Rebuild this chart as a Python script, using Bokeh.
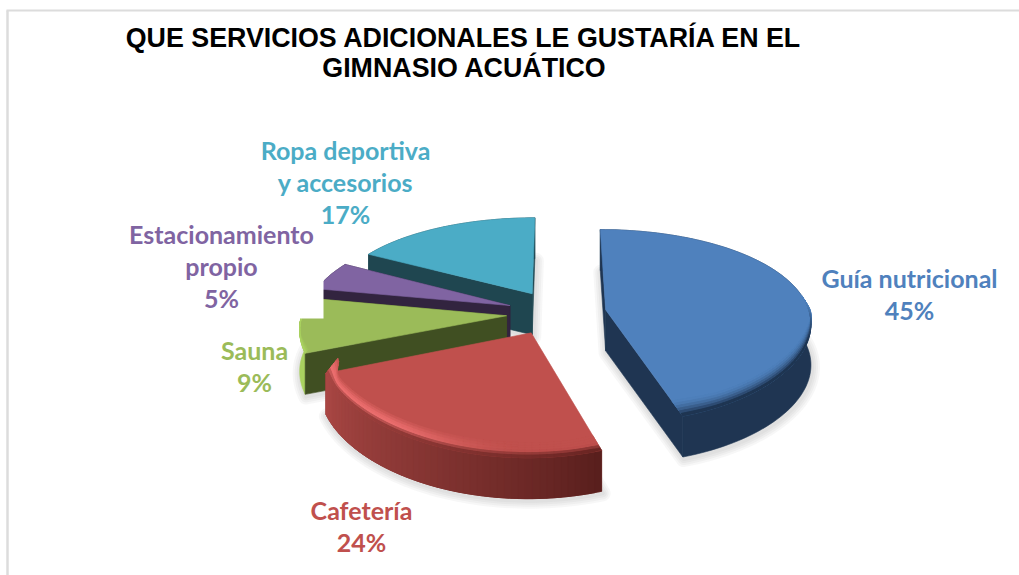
import numpy as np
from bokeh.plotting import figure
from bokeh.embed import file_html
from bokeh.resources import INLINE
from bokeh.core.properties import value

# ---- data
categories = ["Guía nutricional", "Cafetería", "Sauna", "Estacionamiento propio", "Ropa deportiva y accesorios"]
shares = [45, 24, 9, 5, 17]
label_lines = [["Guía nutricional"], ["Cafetería"], ["Sauna"], ["Estacionamiento", "propio"], ["Ropa deportiva", "y accesorios"]]
title_lines = ["QUE SERVICIOS ADICIONALES LE GUSTARÍA EN EL", "GIMNASIO ACUÁTICO"]

# ---- styles
top_col = ["#4F81BD", "#C0504D", "#9BBB59", "#8064A2", "#4BACC6"]
wall_col = ["#1F3552", "#7F3331", "#404F22", "#32243F", "#1F4650"]
arc_col = ["#1F3552", "#7F3331", "#A9D160", "#32243F", "#1F4650"]

# ---- layout (screen pixels)
W, H = 1019, 575
CX, CY, RX, RY = 557.0, 313.0, 204.0, 95.0
AX, AY, EXPLODE, DEPTH = 0.12, 0.17, 0.25, 41.0
nudge_x = [-2, -4, 0, 0, 0]
nudge_y = [0, -3, 0, 0, 0]
rim_h = [15.0, 15.0, 4.0, 15.0, 15.0]
label_x = [909, 361, 254, 221, 345]
label_y0 = [277, 509, 349, 233, 149]
LINE = 32

p = figure(width=W, height=H, x_range=(0, W), y_range=(H, 0), output_backend="svg",
           toolbar_location=None, min_border=0, outline_line_color=None, background_fill_color="white")
p.axis.visible = False
p.grid.visible = False


def hex2(c):
    return np.array([int(c[i:i + 2], 16) for i in (1, 3, 5)], float)


def mix(a, b, t):
    t = float(np.clip(t, 0, 1))
    c = hex2(a) * (1 - t) + hex2(b) * t
    return "#%02x%02x%02x" % tuple(int(round(v)) for v in c)


def smooth(e0, e1, x):
    t = np.clip((x - e0) / (e1 - e0), 0, 1)
    return t * t * (3 - 2 * t)


def project(wx, wy):
    x = CX + RX * wx / (1 + AX * wy)
    y = CY - RY * wy / (1 + AY * wy)
    return x, y


sh = np.array(shares, float)
edges = np.concatenate([[0], np.cumsum(sh)]) / sh.sum() * 2 * np.pi
order = [4, 3, 2, 0, 1]  # painter's order, back to front

halo_x, halo_y = [], []
polys = {k: [] for k in ("xs", "ys", "c")}


def add(xs, ys, c):
    polys["xs"].append(list(xs))
    polys["ys"].append(list(ys))
    polys["c"].append(c)


for i in order:
    t0, t1 = edges[i], edges[i + 1]
    mid = (t0 + t1) / 2
    ox, oy = EXPLODE * np.sin(mid), EXPLODE * np.cos(mid)
    th = np.linspace(t0, t1, max(8, int((t1 - t0) / (2 * np.pi) * 220)))
    n = len(th)
    ax_, ay_ = project(ox, oy)
    px, py = project(ox + np.sin(th), oy + np.cos(th))
    ax_, px = ax_ + nudge_x[i], px + nudge_x[i]
    ay_, py = ay_ + nudge_y[i], py + nudge_y[i]

    halo_x.append(np.r_[ax_, px] + 1)
    halo_y.append(np.r_[ay_, py] + DEPTH + 2)

    # outer wall: a base shape, then overlapping shaded pieces
    add(np.r_[px, px[::-1]], np.r_[py, py[::-1] + DEPTH], arc_col[i])
    if i == 1:
        for j in range(n - 1):
            f = (th[j] - t0) / (t1 - t0)
            c = mix("#591F1D", "#AB4845", f ** 0.9)
            k = min(j + 2, n - 1)
            add([px[j], px[k], px[k], px[j]], [py[j], py[k], py[k] + DEPTH, py[j] + DEPTH], c)
    # radial walls
    for (qx, qy) in ((px[-1], py[-1]), (px[0], py[0])):
        if i == 1:
            continue
        add([ax_, qx, qx, ax_], [ay_, qy, qy + DEPTH, ay_ + DEPTH], wall_col[i])
    # top face
    add(np.r_[ax_, px], np.r_[ay_, py], top_col[i])

    # bevelled rim, from the inner band outwards
    bands = 6
    h = rim_h[i]
    w = smooth(-0.15, 0.35, -np.cos(th))
    end = np.maximum(smooth(0.18, 0.0, th - t0), smooth(0.18, 0.0, t1 - th))
    slope = np.clip((ax_ - px) / np.maximum(py - ay_, 1.0), -0.8, 0.8)
    for b in range(bands):
        a0, a1 = b / bands, (b + 1) / bands
        for j in range(n - 1):
            if w[j] + w[j + 1] == 0:
                continue
            k = min(j + 2, n - 1)
            f = (th[j] - t0) / (t1 - t0)
            if i == 1:
                hl = float(smooth(0.2, 0.65, f))
                edge = mix("#6A2523", "#AB4845", f)
                c = mix(mix(top_col[i], "#EE7070", hl * min(a1 * 1.6, 1.0)), edge, smooth(0.62, 1.0, a1))
            elif i == 2:
                c = mix(top_col[i], arc_col[i], a1)
            else:
                c = mix(top_col[i], wall_col[i], a1 * a1 * w[j])
            d0, d1 = h * (1 - a0), h * (1 - a1)
            add([px[j] + end[j] * slope[j] * w[j] * d0, px[k] + end[k] * slope[k] * w[k] * d0,
                 px[k] + end[k] * slope[k] * w[k] * d1, px[j] + end[j] * slope[j] * w[j] * d1],
                [py[j] - w[j] * d0, py[k] - w[k] * d0, py[k] - w[k] * d1, py[j] - w[j] * d1], c)

# shadow layers
for lw in (16, 12, 8, 4):
    p.patches(halo_x, halo_y, fill_color=None, line_color="#6f6f6f", line_alpha=0.055, line_width=lw, line_join="round")

p.patches("xs", "ys", fill_color="c", line_color="c", line_width=0.6, source=polys)

# white patch pasted over the left of the pie in the original picture
p.quad(left=[285], right=[323], top=[270], bottom=[318], fill_color="white", line_color=None)

# frame fragments
p.segment(x0=[7], y0=[10], x1=[7], y1=[H], line_color="#DCDCDC", line_width=2.5)
p.segment(x0=[6], y0=[10], x1=[W], y1=[10], line_color="#DCDCDC", line_width=2)

# title
p.text(x=[463.5, 464], y=[37, 67], text=title_lines, text_align="center", text_baseline="middle",
       text_font=value("Liberation Sans"), text_font_style="bold", text_font_size="26.8px", text_color="black")

# labels
total = sh.sum()
for i, lines in enumerate(label_lines):
    rows = lines + ["%d%%" % round(sh[i] / total * 100)]
    p.text(x=[label_x[i]] * len(rows), y=[label_y0[i] + k * LINE for k in range(len(rows))], text=rows,
           text_align="center", text_baseline="middle", text_font=value("Lato"), text_font_style="bold",
           text_font_size="25px", text_color=top_col[i])

open("out.html", "w").write(file_html(p, INLINE))
